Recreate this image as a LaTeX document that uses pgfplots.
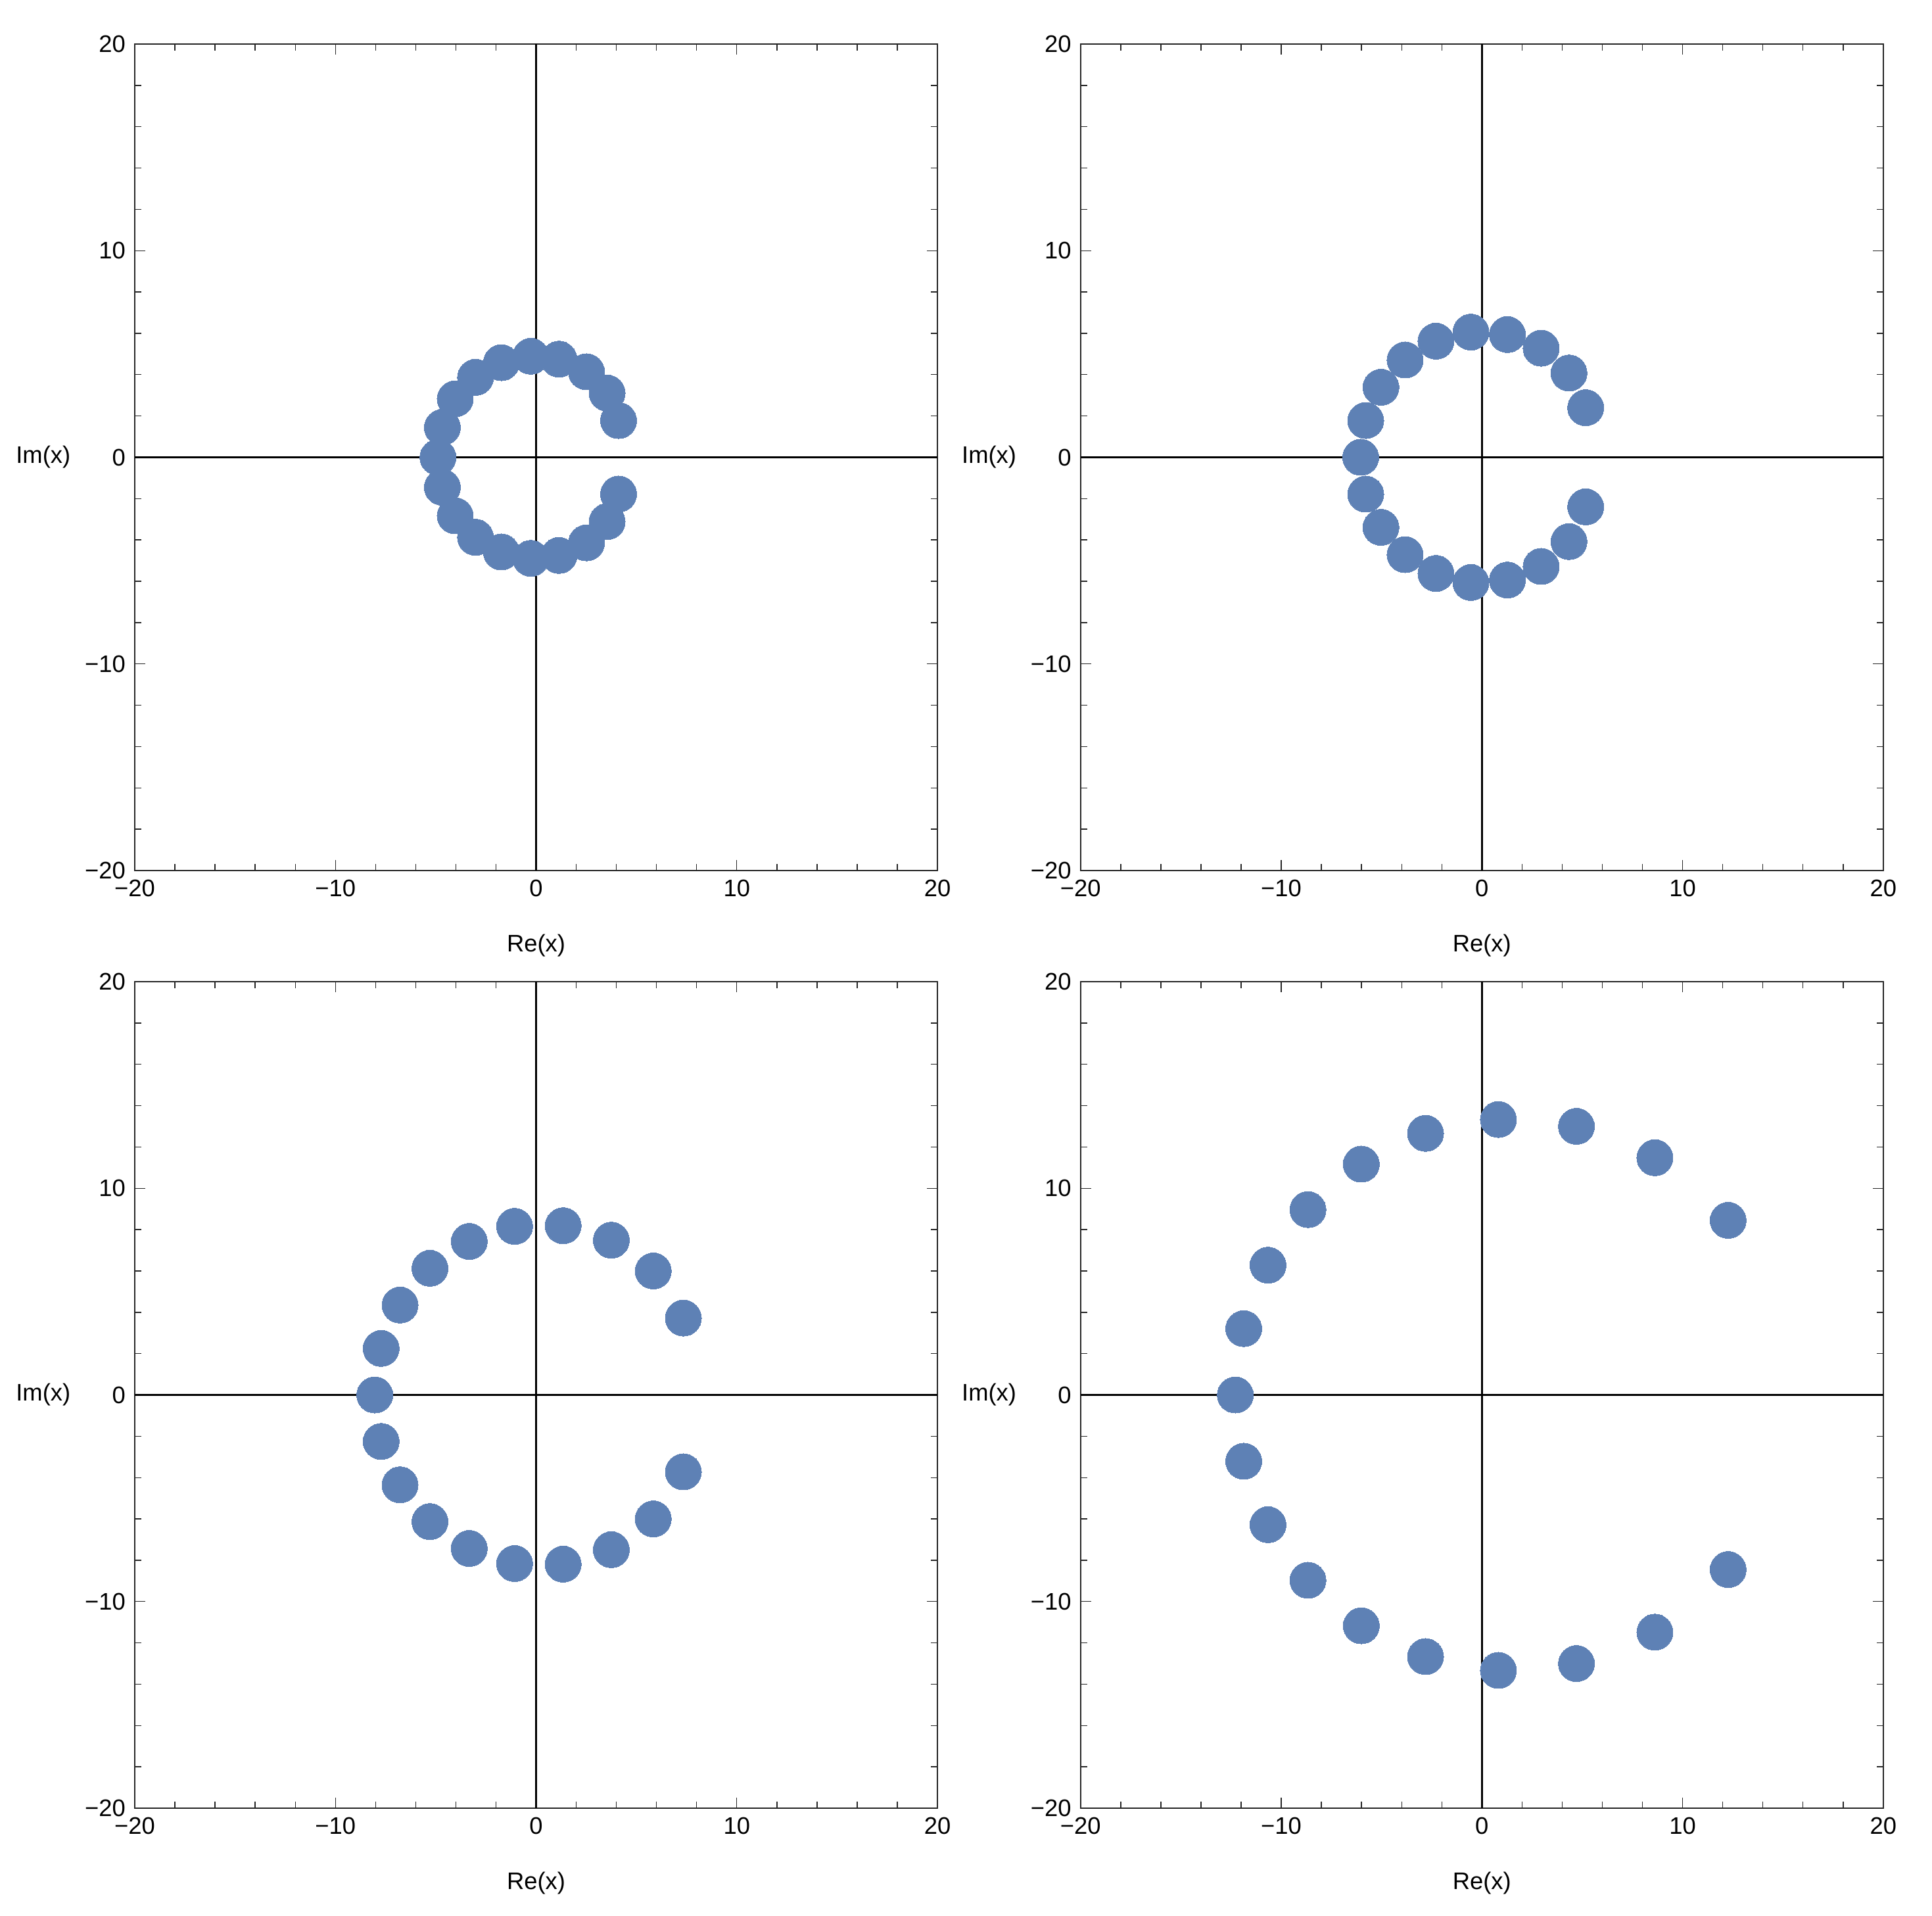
\documentclass[border=0pt]{standalone}
\usepackage{fontspec}
\setmainfont{Liberation Sans}
\usepackage{pgfplots}
\pgfplotsset{compat=1.18}
\definecolor{pts}{RGB}{94,129,181}
\pgfplotsset{
  rootax/.style={
    scale only axis, width=305.25pt, height=314.25pt,
    xmin=-20, xmax=20, ymin=-20, ymax=20,
    xtick={-20,-10,0,10,20}, ytick={-20,-10,0,10,20},
    xticklabels={−20,−10,0,10,20}, yticklabels={−20,−10,0,10,20},
    minor tick num=4,
    major tick length=4pt, minor tick length=2.5pt,
    tick align=inside,
    axis line style={black!85, line width=0.35pt},
    every tick/.style={black!85, line width=0.35pt},
    tick label style={font=\fontsize{9.1}{11}\selectfont},
    xlabel={Re(x)}, ylabel={Im(x)},
    every axis x label/.style={at={(axis description cs:0.5,0)}, anchor=center, yshift=-28.5pt, font=\fontsize{9.1}{11}\selectfont},
    every axis y label/.style={at={(axis description cs:0,0.5)}, anchor=east, inner sep=0pt, xshift=-24.25pt, font=\fontsize{9.1}{11}\selectfont},
    anchor=south west,
  },
  ptsty/.style={only marks, color=pts, mark=*, mark size=6.875pt, mark options={draw=pts, fill=pts, line width=0pt}},
  zeroline/.style={black, line width=0.75pt, mark=none},
}
\begin{document}
\begin{tikzpicture}
\useasboundingbox (0,0) rectangle (734.75pt,728.25pt);
% Panel 1
\begin{axis}[rootax, at={(51.25pt,397.25pt)}]
\addplot[ptsty] coordinates {(4.11,1.78)(3.54,3.11)(2.51,4.14)(1.14,4.75)(-0.26,4.89)(-1.73,4.58)(-3.02,3.87)(-4.03,2.83)(-4.67,1.45)(-4.89,0)(-4.67,-1.45)(-4.03,-2.83)(-3.02,-3.87)(-1.73,-4.58)(-0.26,-4.89)(1.14,-4.75)(2.51,-4.14)(3.54,-3.11)(4.11,-1.78)};
\addplot[zeroline] coordinates {(-20,0)(20,0)};
\addplot[zeroline] coordinates {(0,-20)(0,20)};
\end{axis}
% Panel 2
\begin{axis}[rootax, at={(410.95pt,397.25pt)}]
\addplot[ptsty] coordinates {(5.17,2.40)(4.34,4.08)(2.95,5.28)(1.27,5.94)(-0.55,6.06)(-2.29,5.62)(-3.83,4.71)(-5.03,3.39)(-5.79,1.78)(-6.04,0)(-5.79,-1.78)(-5.03,-3.39)(-3.83,-4.71)(-2.29,-5.62)(-0.55,-6.06)(1.27,-5.94)(2.95,-5.28)(4.34,-4.08)(5.17,-2.40)};
\addplot[zeroline] coordinates {(-20,0)(20,0)};
\addplot[zeroline] coordinates {(0,-20)(0,20)};
\end{axis}
% Panel 3
\begin{axis}[rootax, at={(51.25pt,40.75pt)}]
\addplot[ptsty] coordinates {(7.34,3.72)(5.84,6.00)(3.75,7.49)(1.35,8.19)(-1.07,8.16)(-3.33,7.43)(-5.29,6.13)(-6.78,4.35)(-7.72,2.25)(-8.04,0)(-7.72,-2.25)(-6.78,-4.35)(-5.29,-6.13)(-3.33,-7.43)(-1.07,-8.16)(1.35,-8.19)(3.75,-7.49)(5.84,-6.00)(7.34,-3.72)};
\addplot[zeroline] coordinates {(-20,0)(20,0)};
\addplot[zeroline] coordinates {(0,-20)(0,20)};
\end{axis}
% Panel 4
\begin{axis}[rootax, at={(410.95pt,40.75pt)}]
\addplot[ptsty] coordinates {(12.27,8.45)(8.62,11.48)(4.71,13.0)(0.82,13.33)(-2.81,12.66)(-6.01,11.17)(-8.67,8.97)(-10.66,6.28)(-11.87,3.21)(-12.29,0)(-11.87,-3.21)(-10.66,-6.28)(-8.67,-8.97)(-6.01,-11.17)(-2.81,-12.66)(0.82,-13.33)(4.71,-13.0)(8.62,-11.48)(12.27,-8.45)};
\addplot[zeroline] coordinates {(-20,0)(20,0)};
\addplot[zeroline] coordinates {(0,-20)(0,20)};
\end{axis}
\end{tikzpicture}
\end{document}
